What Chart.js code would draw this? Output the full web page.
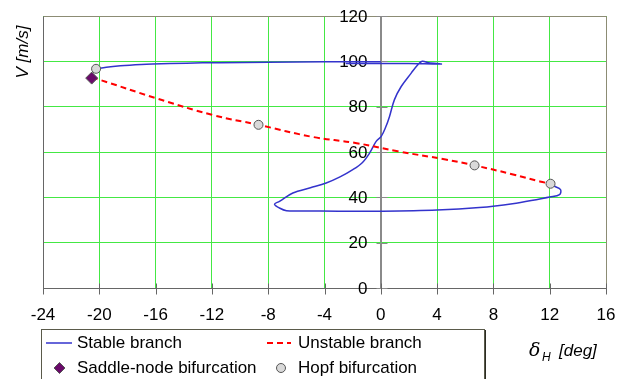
<!DOCTYPE html>
<html>
<head>
<meta charset="utf-8">
<script src="https://cdn.jsdelivr.net/npm/chart.js@4.4.1/dist/chart.umd.min.js"></script>
<style>
  body { margin: 0; background: #fff; }
  #wrap { position: relative; width: 626px; height: 379px; }
</style>
</head>
<body>
<div id="wrap"><canvas id="bifChart" width="626" height="379"></canvas></div>
<script>
// axis ticks
const xTicks = [-24, -20, -16, -12, -8, -4, 0, 4, 8, 12, 16];
const vTicks = [0, 20, 40, 60, 80, 100, 120];

// stable branch (lower loop + S-curve + short return at the top)
const stableX = [12.06, 12.3, 12.77, 12.7, 12.0, 11.3, 9.36, 7.0, 4.0, 0.0, -3.0, -5.5, -6.7, -7.2, -7.55, -7.2, -6.25, -5.0, -3.88, -2.9,
                 -1.99, -1.3, -0.8, -0.33, 0.03, 0.35, 0.62, 0.97, 1.45, 2.16, 2.6, 2.94, 3.4, 4.29, 2.0, -0.5, -2.5];
const stableV = [46.0, 45.0, 43.4, 41.2, 40.1, 39.3, 37.2, 35.5, 34.4, 33.9, 33.9, 34.0, 34.1, 35.3, 37.0, 38.2, 41.9, 44.2, 46.3, 49.0,
                 52.2, 55.4, 59.5, 64.7, 66.9, 71.0, 75.7, 83.1, 88.9, 94.8, 98.3, 100.0, 99.4, 98.8, 99.0, 99.0, 99.0];
// stable branch, upper part starting at the left Hopf point
const stableTopX = [-20.23, -19.5, -18.5, -17.0, -16.2, -13.8, -11.5, -8.0, -4.0, 0.0];
const stableTopV = [96.7, 97.4, 98.0, 98.6, 98.8, 99.2, 99.4, 99.6, 99.8, 99.85];

// unstable branch
const unstableX = [-20.54, -20.0, -16.0, -12.0, -8.69, -4.8, -1.8, 1.2, 4.6, 6.66, 9.4, 11.3, 12.06];
const unstableV = [92.6, 91.9, 83.8, 76.4, 72.0, 66.6, 64.0, 60.3, 56.7, 54.1, 50.1, 47.0, 46.0];

// bifurcation points
const saddleX = [-20.54];
const saddleV = [92.6];
const hopfX = [-20.23, -8.69, 6.66, 12.06];
const hopfV = [96.7, 72.0, 54.1, 46.0];

const FONT = 'Arial, "Liberation Sans", sans-serif';
const BLUE = '#3333cc';
const RED = '#ff0000';
const GRID = '#44e844';
const AXIS = '#8a8a8a';

function pts(xs, ys) {
    return xs.map((x, i) => ({ x: x, y: ys[i] }));
}

// frame, y axis at x = 0, crossing tick marks, titles and legend box
const decorations = {
    id: 'decorations',
    beforeDatasetsDraw(chart) {
        const ctx = chart.ctx;
        const a = chart.chartArea;
        const xs = chart.scales.x, ys = chart.scales.y;
        const x0 = Math.round(xs.getPixelForValue(0)) + 0.5;
        const L = Math.round(a.left) + 0.5, R = Math.round(a.right) + 0.5;
        const T = Math.round(a.top) + 0.5, B = Math.round(a.bottom) + 0.5;
        ctx.save();
        ctx.lineWidth = 1;
        // plot frame
        ctx.strokeStyle = '#8c8c74';
        ctx.beginPath();
        ctx.moveTo(L, T);
        ctx.lineTo(R, T);
        ctx.lineTo(R, B);
        ctx.stroke();
        ctx.strokeStyle = '#666666';
        ctx.beginPath();
        ctx.moveTo(L, T);
        ctx.lineTo(L, B);
        ctx.lineTo(R, B);
        ctx.stroke();
        // y axis through x = 0 with crossing ticks
        ctx.strokeStyle = AXIS;
        ctx.beginPath();
        ctx.moveTo(x0, T);
        ctx.lineTo(x0, B);
        vTicks.forEach(t => {
            const py = Math.round(ys.getPixelForValue(t)) + 0.5;
            ctx.moveTo(x0 - 5, py);
            ctx.lineTo(x0 + 6, py);
        });
        ctx.stroke();
        // x tick marks crossing the bottom axis
        ctx.strokeStyle = '#666666';
        ctx.beginPath();
        xTicks.forEach(t => {
            const px = Math.round(xs.getPixelForValue(t)) + 0.5;
            ctx.moveTo(px, B - 5);
            ctx.lineTo(px, B + 6);
        });
        ctx.stroke();
        // y tick labels, left of the centred axis
        ctx.fillStyle = '#000';
        ctx.font = '17px ' + FONT;
        ctx.textAlign = 'right';
        ctx.textBaseline = 'middle';
        vTicks.forEach(t => {
            ctx.fillText(String(t), x0 - 14, ys.getPixelForValue(t) + 1);
        });
        ctx.restore();
    },
    afterDraw(chart) {
        const ctx = chart.ctx;
        ctx.save();
        ctx.fillStyle = '#000';
        // y title
        ctx.save();
        ctx.translate(28, 52);
        ctx.rotate(-Math.PI / 2);
        ctx.font = 'italic 17px ' + FONT;
        ctx.textAlign = 'center';
        ctx.textBaseline = 'alphabetic';
        ctx.fillText('V [m/s]', 0, 0);
        ctx.restore();
        // x title: delta with subscript H
        ctx.textBaseline = 'alphabetic';
        ctx.textAlign = 'left';
        ctx.font = 'italic 19px "DejaVu Serif", serif';
        ctx.fillText('\u03b4', 529, 356);
        ctx.font = 'italic 12px ' + FONT;
        ctx.fillText('H', 542, 361);
        ctx.font = 'italic 17px ' + FONT;
        ctx.fillText('[deg]', 559, 356);

        // legend box
        ctx.strokeStyle = '#5a5a4a';
        ctx.lineWidth = 1;
        ctx.strokeRect(41.5, 329.5, 443, 60);
        ctx.strokeStyle = '#2c2c22';
        ctx.beginPath();
        ctx.moveTo(485.5, 330);
        ctx.lineTo(485.5, 380);
        ctx.stroke();

        const row1 = 343, row2 = 368;
        ctx.lineWidth = 1.5;
        ctx.strokeStyle = BLUE;
        ctx.beginPath();
        ctx.moveTo(46, row1);
        ctx.lineTo(72, row1);
        ctx.stroke();
        ctx.strokeStyle = RED;
        ctx.lineWidth = 2;
        ctx.setLineDash([6, 4]);
        ctx.beginPath();
        ctx.moveTo(267, row1);
        ctx.lineTo(291, row1);
        ctx.stroke();
        ctx.setLineDash([]);
        // diamond
        ctx.fillStyle = '#6a0a6a';
        ctx.strokeStyle = '#555';
        ctx.lineWidth = 1;
        ctx.beginPath();
        ctx.moveTo(59.5, row2 - 5.5);
        ctx.lineTo(65, row2);
        ctx.lineTo(59.5, row2 + 5.5);
        ctx.lineTo(54, row2);
        ctx.closePath();
        ctx.fill();
        ctx.stroke();
        // circle
        ctx.fillStyle = '#d9d9d9';
        ctx.strokeStyle = '#555';
        ctx.beginPath();
        ctx.arc(281, row2, 4.5, 0, Math.PI * 2);
        ctx.fill();
        ctx.stroke();

        ctx.fillStyle = '#000';
        ctx.font = '17px ' + FONT;
        ctx.textAlign = 'left';
        ctx.textBaseline = 'middle';
        ctx.fillText('Stable branch', 77, row1);
        ctx.fillText('Unstable branch', 298, row1);
        ctx.fillText('Saddle-node bifurcation', 77, row2);
        ctx.fillText('Hopf bifurcation', 298, row2);
        ctx.restore();
    }
};

const ctx = document.getElementById('bifChart').getContext('2d');
new Chart(ctx, {
    type: 'scatter',
    data: {
        datasets: [{
            label: 'Hopf bifurcation',
            data: pts(hopfX, hopfV),
            pointStyle: 'circle',
            pointRadius: 4.5,
            pointBackgroundColor: '#d9d9d9',
            pointBorderColor: '#555555',
            pointBorderWidth: 1,
            order: 0
        }, {
            label: 'Saddle-node bifurcation',
            data: pts(saddleX, saddleV),
            pointStyle: 'rectRot',
            pointRadius: 6,
            pointBackgroundColor: '#6a0a6a',
            pointBorderColor: '#555555',
            pointBorderWidth: 1,
            order: 1
        }, {
            label: 'Unstable branch',
            data: pts(unstableX, unstableV),
            showLine: true,
            borderColor: RED,
            borderWidth: 2,
            borderDash: [6, 4],
            tension: 0.4,
            pointRadius: 0,
            order: 2
        }, {
            label: 'Stable branch',
            data: pts(stableX, stableV),
            showLine: true,
            borderColor: BLUE,
            borderWidth: 1.5,
            tension: 0.35,
            pointRadius: 0,
            order: 3
        }, {
            label: 'Stable branch (top)',
            data: pts(stableTopX, stableTopV),
            showLine: true,
            borderColor: BLUE,
            borderWidth: 1.5,
            tension: 0.4,
            pointRadius: 0,
            order: 3
        }]
    },
    options: {
        responsive: false,
        animation: false,
        layout: { padding: { left: 43, top: 16, right: 20, bottom: 0 } },
        plugins: {
            legend: { display: false },
            tooltip: { enabled: false }
        },
        scales: {
            x: {
                type: 'linear',
                position: 'bottom',
                min: -24,
                max: 16,
                afterBuildTicks: (scale) => { scale.ticks = xTicks.map(v => ({ value: v })); },
                afterFit: (scale) => {
                    scale.height = 91;
                    scale.paddingLeft = 0;
                    scale.paddingRight = 0;
                },
                grid: {
                    color: (c) => (c.tick && c.tick.value === 0) ? AXIS : GRID,
                    lineWidth: 1,
                    drawTicks: false
                },
                border: { display: false },
                ticks: { color: '#000', padding: 17, font: { family: FONT, size: 17 }, maxRotation: 0 }
            },
            y: {
                type: 'linear',
                position: { x: 0 },
                min: 0,
                max: 120,
                afterBuildTicks: (scale) => { scale.ticks = vTicks.map(v => ({ value: v })); },
                afterFit: (scale) => {
                    scale.width = 0;
                    scale.paddingTop = 0;
                    scale.paddingBottom = 0;
                },
                grid: { color: GRID, lineWidth: 1, drawTicks: false },
                border: { display: false },
                ticks: { display: false }
            }
        }
    },
    plugins: [decorations]
});
</script>
</body>
</html>
